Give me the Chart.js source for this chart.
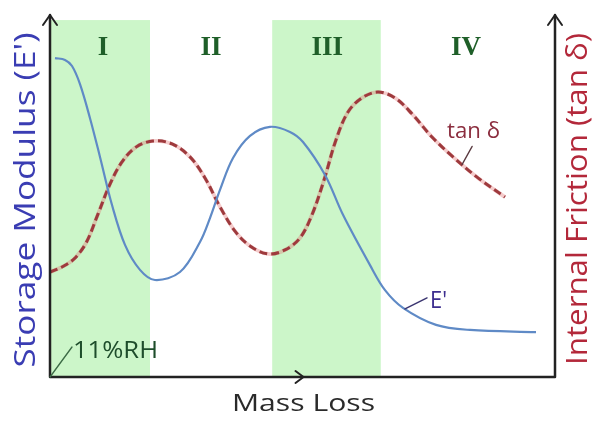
<!DOCTYPE html>
<html><head><meta charset="utf-8">
<script src="https://cdn.jsdelivr.net/npm/chart.js@4"></script>
<style>html,body{margin:0;padding:0;background:#fff}canvas{display:block}</style>
</head><body>
<canvas id="c" width="606" height="430"></canvas>
<script>
// Storage modulus E' (blue solid) — x: mass loss (0-100), y: relative units (0-100)
const massLossE = [0.99, 2.97, 4.36, 5.94, 7.92, 9.90, 12.28, 14.85, 17.82, 20.79, 25.74, 29.70, 31.68, 33.66, 36.24, 39.60, 43.56, 47.52, 50.10, 54.46, 58.02, 63.37, 66.34, 69.90, 76.44, 83.17, 96.24];
const storageModulus = [88.1, 87.6, 85.9, 80.9, 71.5, 60.8, 47.5, 36.5, 29.6, 26.8, 29.0, 37.3, 43.9, 51.7, 60.5, 66.6, 69.1, 67.7, 64.9, 55.8, 44.8, 30.9, 24.0, 19.1, 14.4, 13.0, 12.4];
// Internal friction tan δ (red dashed)
const massLossTan = [0, 2.38, 4.75, 7.13, 9.50, 11.88, 14.26, 17.03, 20.40, 24.16, 27.72, 30.69, 33.66, 36.63, 39.60, 43.17, 46.53, 49.50, 51.88, 54.26, 56.63, 59.01, 61.78, 64.95, 68.32, 71.68, 75.64, 79.80, 84.75, 90.10];
const tanDelta = [29.0, 30.4, 32.6, 37.0, 45.0, 53.3, 59.4, 63.5, 65.2, 64.4, 60.8, 55.0, 47.0, 40.3, 36.2, 34.0, 35.1, 38.4, 44.8, 54.4, 65.5, 73.2, 77.1, 78.7, 77.1, 72.7, 66.3, 60.8, 55.0, 49.7];
// Regions
const regionLabels = ['I', 'II', 'III', 'IV'];
const regionCenters = [10.5, 31.9, 54.9, 82.4];
const shadedStart = [0, 44.0];
const shadedEnd = [19.8, 65.5];
const shadedTop = 98.6;
// Annotation anchors on the curves (data units)
const eAnchor = {x: 70.3, y: 18.8};
const tanAnchor = {x: 81.6, y: 58.7};

const toXY = (xs, ys) => xs.map((x, i) => ({x, y: ys[i]}));

function fitText(ctx, text, x, y, w, font, color, align, rot) {
  ctx.save();
  ctx.font = font;
  ctx.fillStyle = color;
  const m = ctx.measureText(text).width;
  ctx.translate(x, y);
  if (rot) ctx.rotate(rot);
  ctx.scale(w / m, 1);
  ctx.textAlign = align;
  ctx.textBaseline = 'alphabetic';
  ctx.fillText(text, 0, 0);
  ctx.restore();
}
function line(ctx, pts, color, w) {
  ctx.save();
  ctx.strokeStyle = color; ctx.lineWidth = w; ctx.lineCap = 'round'; ctx.lineJoin = 'round';
  ctx.beginPath();
  pts.forEach((p, i) => i ? ctx.lineTo(p[0], p[1]) : ctx.moveTo(p[0], p[1]));
  ctx.stroke();
  ctx.restore();
}

const deco = {
  id: 'deco',
  beforeDatasetsDraw(chart) {
    const {ctx, chartArea: a, scales: {x, yE}} = chart;
    ctx.save();
    ctx.fillStyle = '#ccf6c9';
    const yTop = yE.getPixelForValue(shadedTop);
    shadedStart.forEach((s, i) => {
      const x0 = x.getPixelForValue(s), x1 = x.getPixelForValue(shadedEnd[i]);
      ctx.fillRect(x0, yTop, x1 - x0, a.bottom - yTop);
    });
    ctx.restore();
  },
  afterDatasetsDraw(chart) {
    const {ctx, chartArea: a, scales: {x, yE, yT}} = chart;
    const ax = '#222';
    // axes
    line(ctx, [[a.left, a.top], [a.left, a.bottom], [a.right, a.bottom], [a.right, a.top]], ax, 2.5);
    line(ctx, [[a.left - 7, a.top + 10], [a.left, a.top], [a.left + 7, a.top + 10]], ax, 2);
    line(ctx, [[a.right - 7, a.top + 10], [a.right, a.top], [a.right + 7, a.top + 10]], ax, 2);
    const mx = (a.left + a.right) / 2 + 1;
    line(ctx, [[mx - 8, a.bottom - 6], [mx, a.bottom], [mx - 8, a.bottom + 6]], ax, 2);

    // region labels
    ctx.save();
    ctx.font = 'bold 27px "Liberation Serif"';
    ctx.fillStyle = '#1f5f29';
    ctx.textAlign = 'center';
    ctx.textBaseline = 'alphabetic';
    regionLabels.forEach((l, i) => ctx.fillText(l, x.getPixelForValue(regionCenters[i]), a.top + 40));
    ctx.restore();

    // axis titles
    fitText(ctx, "Storage Modulus (E')", 35, 200, 335, '30px "Open Sans"', '#3a3db3', 'center', -Math.PI / 2);
    fitText(ctx, 'Internal Friction (tan δ)', 587, 199, 332, '30px "Open Sans"', '#b3283a', 'center', -Math.PI / 2);
    fitText(ctx, 'Mass Loss', 303.5, 411, 143, '24px "Open Sans"', '#2a2a2a', 'center', 0);

    // 11%RH
    line(ctx, [[a.left, a.bottom], [a.left + 22, a.bottom - 30]], '#3b6a45', 1.3);
    fitText(ctx, '11%RH', a.left + 23, a.bottom - 19, 85, '24px "Open Sans"', '#1e4d2b', 'left', 0);

    // E' annotation
    const ex = x.getPixelForValue(eAnchor.x), ey = yE.getPixelForValue(eAnchor.y);
    line(ctx, [[ex, ey], [ex + 22, ey - 11]], '#3b3570', 1.5);
    fitText(ctx, "E'", ex + 25, ey - 1, 17, '24px "Open Sans"', '#3d2e8f', 'left', 0);

    // tan δ annotation
    const tx = x.getPixelForValue(tanAnchor.x), ty = yT.getPixelForValue(tanAnchor.y);
    line(ctx, [[tx, ty], [tx + 10, ty - 18]], '#5a3a40', 1.5);
    fitText(ctx, 'tan δ', tx - 15, ty - 27, 53, '22px "Open Sans"', '#8b2d3e', 'left', 0);
  }
};

new Chart(document.getElementById('c'), {
  type: 'line',
  data: {
    datasets: [
      {label: "E'", data: toXY(massLossE, storageModulus), yAxisID: 'yE', borderColor: '#5f8ac6', borderWidth: 2.2, pointRadius: 0, tension: 0.35, fill: false},
      {label: 'tan δ edge', data: toXY(massLossTan, tanDelta), yAxisID: 'yT', borderColor: 'rgba(225,110,110,0.35)', borderWidth: 3.8, pointRadius: 0, tension: 0.35, fill: false},
      {label: 'tan δ', data: toXY(massLossTan, tanDelta), yAxisID: 'yT', borderColor: '#7a1f24', borderWidth: 3, borderDash: [8, 4], pointRadius: 0, tension: 0.35, fill: false}
    ]
  },
  options: {
    responsive: false,
    animation: false,
    events: [],
    layout: {padding: {left: 50, right: 51, top: 15, bottom: 53}},
    plugins: {legend: {display: false}, tooltip: {enabled: false}},
    scales: {
      x: {type: 'linear', min: 0, max: 100, display: false},
      yE: {type: 'linear', position: 'left', min: 0, max: 100, display: false},
      yT: {type: 'linear', position: 'right', min: 0, max: 100, display: false}
    }
  },
  plugins: [deco]
});
</script>
</body></html>
